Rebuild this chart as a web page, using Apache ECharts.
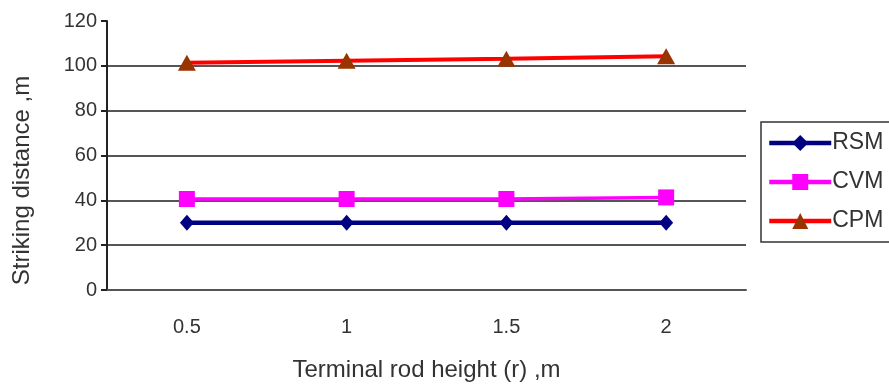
<!DOCTYPE html>
<html><head><meta charset="utf-8">
<script src="https://cdn.jsdelivr.net/npm/echarts@6/dist/echarts.min.js"></script>
<style>html,body{margin:0;padding:0;background:#fff}#c{width:889px;height:387px}</style>
</head><body><div id="c"></div>
<script>
const categories = ['0.5', '1', '1.5', '2'];
const rsm = [30, 30, 30, 30];
const cvm = [40.6, 40.6, 40.6, 41.3];
const cpm = [101.4, 102.3, 103.2, 104.3];
const yTicks = { min: 0, max: 120, interval: 20 };
const xName = 'Terminal rod height (r) ,m';
const yName = 'Striking distance ,m';

const font = 'Liberation Sans, Arial, sans-serif';
const chart = echarts.init(document.getElementById('c'));
chart.setOption({
  animation: false,
  backgroundColor: '#fff',
  textStyle: { fontFamily: font },
  grid: { left: 107, right: 143, top: 21, bottom: 96 },
  legend: {
    left: 761, top: 122, orient: 'vertical',
    itemWidth: 62, itemHeight: 20, itemGap: 13,
    padding: [8, 30, 8, 6],
    borderColor: '#333', borderWidth: 1.5,
    lineStyle: { width: 4.5 },
    textStyle: { fontSize: 23, lineHeight: 26, color: '#333', fontFamily: font, padding: [0, 0, 0, -4] },
    data: ['RSM', 'CVM', 'CPM']
  },
  xAxis: {
    type: 'category', data: categories, boundaryGap: true,
    name: xName, nameLocation: 'middle', nameGap: 68,
    nameTextStyle: { fontSize: 24, color: '#333' },
    axisLine: { lineStyle: { color: '#555', width: 2 } },
    axisTick: { show: false },
    axisLabel: { fontSize: 20, color: '#333', margin: 27 }
  },
  yAxis: {
    type: 'value', min: yTicks.min, max: yTicks.max, interval: yTicks.interval,
    name: yName, nameLocation: 'middle', nameGap: 73,
    nameTextStyle: { fontSize: 24, color: '#333', padding: [0, 50, 0, 0] },
    axisLine: { show: true, lineStyle: { color: '#222', width: 2 } },
    axisTick: { show: true, length: 6, lineStyle: { color: '#222', width: 2 } },
    axisLabel: { fontSize: 20, color: '#333', margin: 10 },
    splitLine: { show: true, showMaxLine: false, lineStyle: { color: '#555', width: 2 } }
  },
  series: [
    { name: 'RSM', type: 'line', data: rsm, symbol: 'diamond', symbolSize: [14, 16],
      lineStyle: { color: '#000080', width: 4.5 }, itemStyle: { color: '#000080' } },
    { name: 'CVM', type: 'line', data: cvm, symbol: 'rect', symbolSize: 16,
      lineStyle: { color: '#ff00ff', width: 3.5 }, itemStyle: { color: '#ff00ff' } },
    { name: 'CPM', type: 'line', data: cpm, symbol: 'triangle', symbolSize: [18, 16],
      lineStyle: { color: '#ff0000', width: 4 }, itemStyle: { color: '#993300' } }
  ]
});
</script></body></html>
